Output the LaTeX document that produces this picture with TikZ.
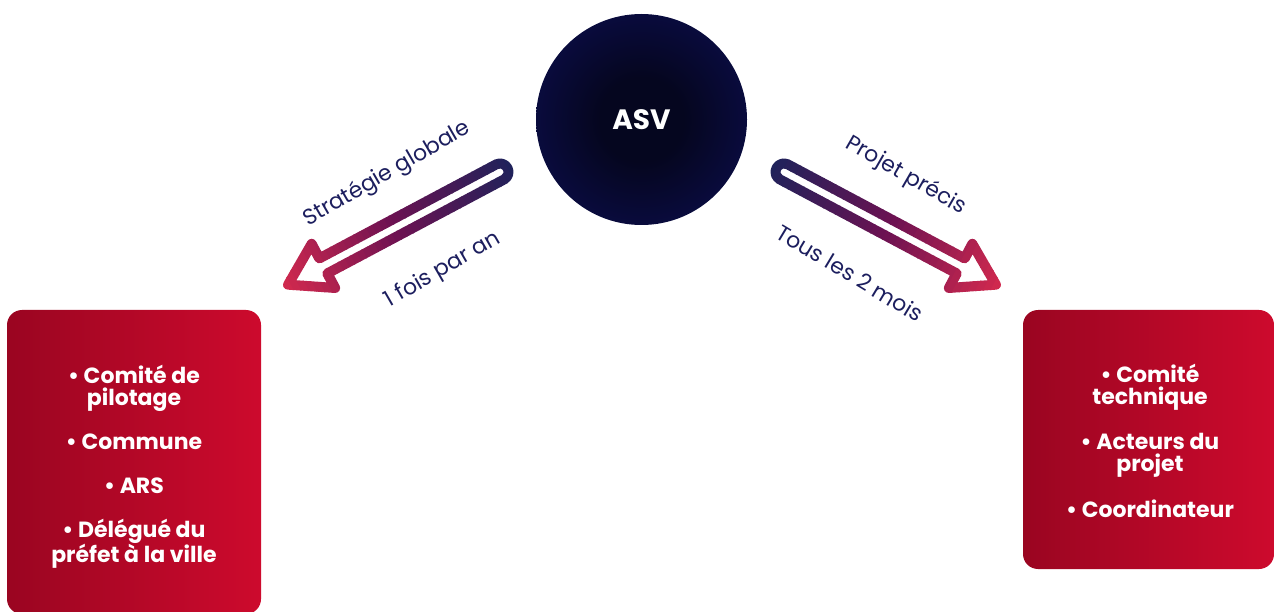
\documentclass[tikz,border=0pt]{standalone}
\usepackage{fontspec}
\setmainfont{Poppins}
\definecolor{navytxt}{HTML}{1C1E5E}
\definecolor{arrownavy}{HTML}{20225A}
\definecolor{arrowmid}{HTML}{6C1252}
\definecolor{arrowred}{HTML}{D52A4E}
\definecolor{boxleft}{HTML}{9A0521}
\definecolor{boxright}{HTML}{CD0A2D}
\definecolor{asvin}{HTML}{05061F}
\definecolor{asvout}{HTML}{10136E}
\pgfdeclareradialshading{asvshade}{\pgfpoint{0bp}{0bp}}{color(0bp)=(asvin); color(10bp)=(asvin); color(50bp)=(asvout)}
\tikzset{
  redbox/.style={rectangle, rounded corners=15pt, left color=boxleft, right color=boxright,
    draw=none, inner sep=0pt},
  boxtext/.style={text=white, align=center, inner sep=0pt,
    font=\fontsize{22}{22}\selectfont\bfseries},
  lbl/.style={text=navytxt, inner sep=0pt, font=\fontsize{22}{24}\selectfont},
  arrowstroke/.style={line width=10pt, line join=round},
}
\newcommand{\hollowarrow}[3]{%
  \begin{scope}[shift={(#1)}, rotate=#2]
    \foreach \i in {0,...,39}{
      \pgfmathsetmacro{\xa}{-15+\i*(#3+26)/40}
      \pgfmathsetmacro{\xb}{\xa+(#3+26)/40+0.8}
      \pgfmathtruncatemacro{\pc}{200*\i/39}
      \ifnum\pc>100
        \pgfmathtruncatemacro{\pd}{\pc-100}\colorlet{strk}{arrowred!\pd!arrowmid}%
      \else
        \colorlet{strk}{arrowmid!\pc!arrownavy}%
      \fi
      \begin{scope}
        \clip (\xa,-45) rectangle (\xb,45);
        \draw[arrowstroke, draw=strk] (#3,0) -- (#3-40,25) -- (#3-40,8.5) -- (0,8.5)
          arc[start angle=90, end angle=270, radius=8.5] -- (#3-40,-8.5) -- (#3-40,-25) -- cycle;
      \end{scope}
    }
  \end{scope}}
\begin{document}
\begin{tikzpicture}[x=1pt, y=1pt]
\useasboundingbox (0,0) rectangle (1275,-612);

% central circle
\node[circle, shade, shading=asvshade, minimum size=211pt, inner sep=0pt,
      text=white, font=\fontsize{28}{30}\selectfont\bfseries] (asv) at (641.5,-119.5) {ASV};

% boxes
\node[redbox, minimum width=254pt, minimum height=304pt] (left) at (134,-462) {};
\node[boxtext] (lefttext) at (134,-467)
  {\textbullet{} Comité de\\pilotage\\[22pt]\textbullet{} Commune\\[22pt]\textbullet{} ARS\\[22pt]\textbullet{} Délégué du\\préfet à la ville};
\node[redbox, minimum width=251pt, minimum height=259pt] (right) at (1148.5,-439.5) {};
\node[boxtext] (righttext) at (1150,-441)
  {\textbullet{} Comité\\technique\\[22pt]\textbullet{} Acteurs du\\projet\\[22pt]\textbullet{} Coordinateur};

% arrows
\coordinate (tl) at (500,-172);
\coordinate (tr) at (784,-172);
\hollowarrow{tl}{208}{240}
\hollowarrow{tr}{-28}{240}

% labels
\node[lbl, rotate=30] (l1) at (387,-174) {Stratégie globale};
\node[lbl, rotate=30] (l2) at (443,-270) {1 fois par an};
\node[lbl, rotate=-30] (l3) at (906,-176) {Projet précis};
\node[lbl, rotate=-31] (l4) at (850,-273) {Tous les 2 mois};
\end{tikzpicture}
\end{document}
